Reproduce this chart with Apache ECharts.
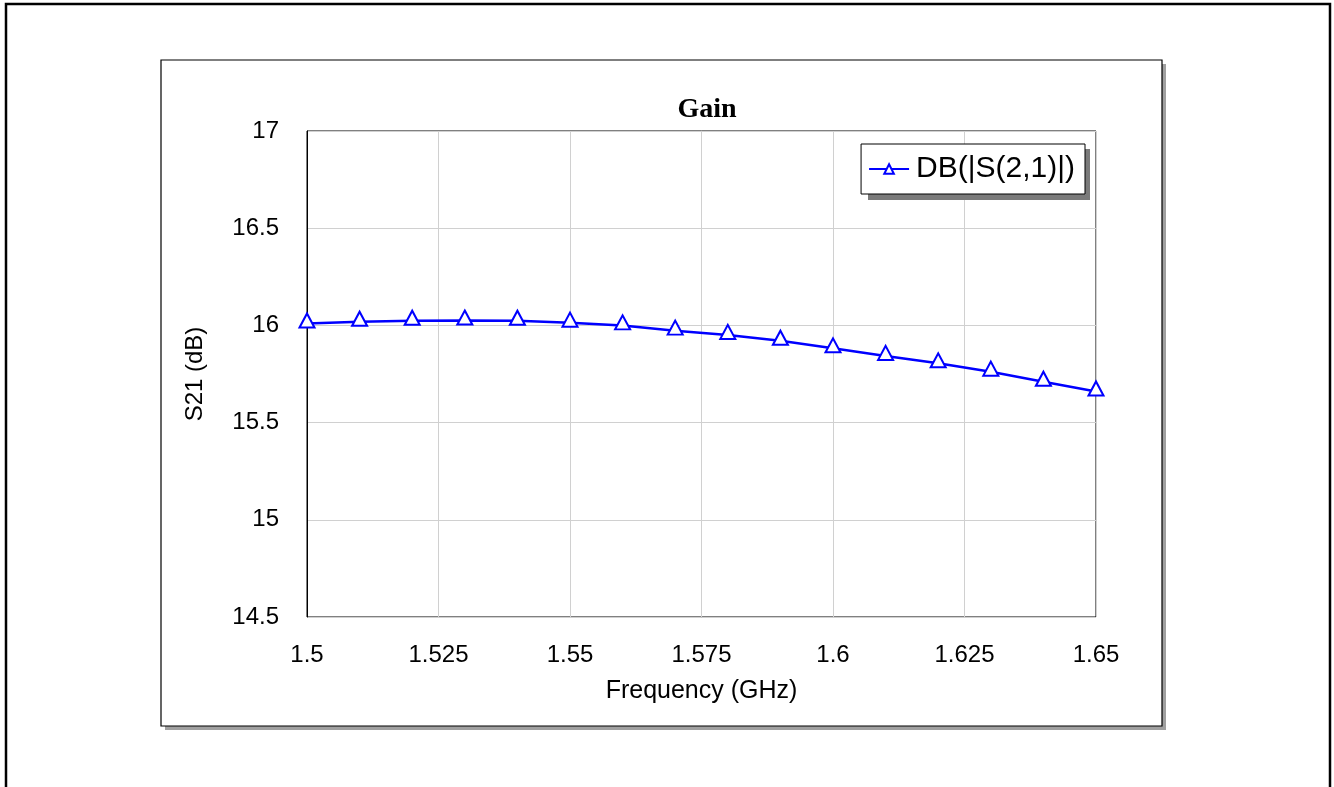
<!DOCTYPE html>
<html>
<head>
<meta charset="utf-8">
<script src="https://cdn.jsdelivr.net/npm/echarts@6/dist/echarts.min.js"></script>
<style>
  html, body { margin: 0; padding: 0; background: #fff; }
  #chart { width: 1334px; height: 787px; }
</style>
</head>
<body>
<div id="chart"></div>
<script>
// frequency points (GHz) and gain values (dB)
const freq = [1.5, 1.51, 1.52, 1.53, 1.54, 1.55, 1.56, 1.57, 1.58, 1.59, 1.6, 1.61, 1.62, 1.63, 1.64, 1.65];
const s21 = [16.01, 16.019, 16.024, 16.025, 16.024, 16.014, 16.0, 15.973, 15.951, 15.921, 15.882, 15.843, 15.805, 15.762, 15.71, 15.66];

const seriesName = 'DB(|S(2,1)|)';

const chart = echarts.init(document.getElementById('chart'));

let option = {
    backgroundColor: '#fff',
    animation: false,
    graphic: [
        // outer frame
        { type: 'rect', z: -10, shape: { x: 6, y: 4, width: 1324, height: 810 },
          style: { fill: 'none', stroke: '#000', lineWidth: 2.5 } },
        // panel shadow
        { type: 'rect', z: -9, shape: { x: 165, y: 64, width: 1001, height: 666 },
          style: { fill: '#a0a0a0' } },
        // panel
        { type: 'rect', z: -8, shape: { x: 161, y: 60, width: 1001, height: 666 },
          style: { fill: '#fff', stroke: '#000', lineWidth: 1.2 } },
        // legend box shadow
        { type: 'rect', z: 3, shape: { x: 868, y: 149, width: 222, height: 51 },
          style: { fill: '#7a7a7a' } }
    ],
    title: {
        text: 'Gain',
        left: 702,
        top: 91,
        textAlign: 'center',
        textStyle: { fontFamily: 'Liberation Serif', fontWeight: 'bold', fontSize: 28, color: '#000' }
    },
    legend: {
        z: 5,
        right: 1334 - 1085,
        top: 144,
        itemWidth: 40,
        itemHeight: 12,
        itemGap: 4,
        padding: [10, 10, 10, 7],
        backgroundColor: '#fff',
        borderColor: '#000',
        borderWidth: 1,
        textStyle: { fontFamily: 'Liberation Sans', fontSize: 30, color: '#000', padding: [0, 0, 0, 2] },
        data: [seriesName]
    },
    grid: {
        left: 307,
        top: 131,
        width: 789,
        height: 486,
        show: true,
        borderColor: '#000',
        borderWidth: 1
    },
    xAxis: {
        type: 'value',
        min: 1.5,
        max: 1.65,
        interval: 0.025,
        name: 'Frequency (GHz)',
        nameLocation: 'middle',
        nameGap: 62,
        nameTextStyle: { fontFamily: 'Liberation Sans', fontSize: 25, color: '#000' },
        axisLine: { show: false },
        axisTick: { show: false },
        axisLabel: { fontFamily: 'Liberation Sans', fontSize: 24, color: '#000', margin: 26 },
        splitLine: { show: true, lineStyle: { color: '#d0d0d0', width: 1 } }
    },
    yAxis: {
        type: 'value',
        min: 14.5,
        max: 17,
        interval: 0.5,
        name: 'S21 (dB)',
        nameLocation: 'middle',
        nameGap: 100,
        nameRotate: 90,
        nameTextStyle: { fontFamily: 'Liberation Sans', fontSize: 24, color: '#000' },
        axisLine: { show: true, lineStyle: { color: '#000', width: 1 } },
        axisTick: { show: false },
        axisLabel: { fontFamily: 'Liberation Sans', fontSize: 24, color: '#000', margin: 28, padding: [10, 0, 0, 0] },
        splitLine: { show: true, lineStyle: { color: '#d0d0d0', width: 1 } }
    },
    series: [
        {
            name: seriesName,
            type: 'line',
            data: freq.map((f, i) => [f, s21[i]]),
            symbol: 'emptyTriangle',
            symbolSize: [15, 14],
            symbolOffset: [0, -3],
            showAllSymbol: true,
            lineStyle: { color: '#0000ff', width: 2.5 },
            itemStyle: { color: '#0000ff', borderColor: '#0000ff', borderWidth: 2.5 }
        }
    ]
};

chart.setOption(option);
</script>
</body>
</html>
